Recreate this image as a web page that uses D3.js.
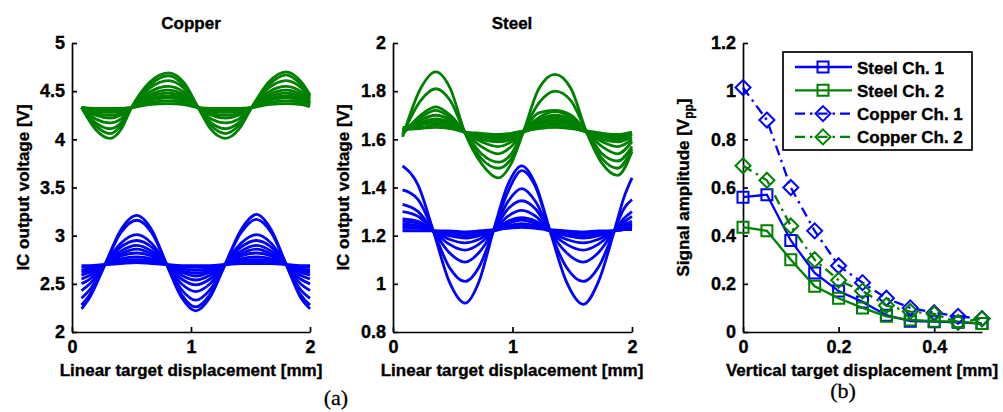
<!DOCTYPE html>
<html>
<head>
<meta charset="utf-8">
<script src="https://cdn.jsdelivr.net/npm/d3@7"></script>
<style>
body { margin: 0; background: #fff; }
svg text { font-family: "Liberation Sans", Arial, sans-serif; font-weight: bold; stroke: #000; stroke-width: 0.35px; }
</style>
</head>
<body>
<svg id="fig" width="1003" height="412"></svg>
<script>
// ---- data ----

// (a) Copper, Ch. 1 (blue): sample positions [mm] and one curve per vertical offset [V]
let copperCh1X = [0.08, 0.15, 0.277, 0.41, 0.544, 0.67, 0.796, 0.92, 1.04, 1.16, 1.286, 1.42, 1.55, 1.675, 1.80, 1.92, 2.0];
let copperCh1Curves = [
  [2.24,2.36,2.70,3.06,3.21,3.06,2.70,2.36,2.22,2.36,2.70,3.06,3.22,3.06,2.70,2.36,2.24],
  [2.28,2.39,2.70,3.03,3.16,3.03,2.70,2.39,2.26,2.39,2.70,3.03,3.17,3.03,2.70,2.39,2.28],
  [2.35,2.44,2.70,2.92,3.01,2.92,2.70,2.44,2.33,2.44,2.70,2.92,3.01,2.92,2.70,2.44,2.35],
  [2.43,2.50,2.70,2.88,2.95,2.88,2.70,2.50,2.42,2.50,2.70,2.88,2.95,2.88,2.70,2.50,2.43],
  [2.50,2.55,2.70,2.84,2.90,2.84,2.70,2.55,2.49,2.55,2.70,2.84,2.90,2.84,2.70,2.55,2.50],
  [2.55,2.59,2.70,2.81,2.86,2.81,2.70,2.59,2.54,2.59,2.70,2.81,2.86,2.81,2.70,2.59,2.55],
  [2.59,2.62,2.70,2.79,2.82,2.79,2.70,2.62,2.58,2.62,2.70,2.79,2.82,2.79,2.70,2.62,2.59],
  [2.62,2.64,2.70,2.76,2.78,2.76,2.70,2.64,2.61,2.64,2.70,2.76,2.78,2.76,2.70,2.64,2.62],
  [2.64,2.66,2.70,2.74,2.75,2.74,2.70,2.66,2.64,2.66,2.70,2.74,2.75,2.74,2.70,2.66,2.64],
  [2.67,2.68,2.70,2.72,2.73,2.72,2.70,2.68,2.67,2.68,2.70,2.72,2.73,2.72,2.70,2.68,2.67],
  [2.69,2.69,2.70,2.71,2.72,2.71,2.70,2.69,2.69,2.69,2.70,2.71,2.71,2.71,2.70,2.69,2.69]
];

// (a) Copper, Ch. 2 (green)
let copperCh2X = [0.08, 0.20, 0.32, 0.41, 0.50, 0.65, 0.81, 0.94, 1.06, 1.17, 1.29, 1.40, 1.51, 1.65, 1.80, 1.93, 2.0];
let copperCh2Curves = [
  [4.33,4.10,4.01,4.10,4.33,4.59,4.69,4.59,4.33,4.10,4.01,4.10,4.33,4.59,4.70,4.59,4.46],
  [4.33,4.14,4.06,4.14,4.33,4.56,4.66,4.56,4.33,4.14,4.06,4.14,4.33,4.56,4.67,4.56,4.45],
  [4.33,4.17,4.11,4.17,4.33,4.53,4.61,4.53,4.33,4.17,4.11,4.17,4.33,4.53,4.61,4.53,4.43],
  [4.33,4.21,4.17,4.21,4.33,4.49,4.55,4.49,4.33,4.21,4.17,4.21,4.33,4.49,4.55,4.49,4.41],
  [4.33,4.25,4.22,4.25,4.33,4.46,4.51,4.46,4.33,4.25,4.22,4.25,4.33,4.46,4.51,4.46,4.39],
  [4.33,4.27,4.25,4.27,4.33,4.44,4.48,4.44,4.33,4.27,4.25,4.27,4.33,4.44,4.48,4.44,4.38],
  [4.33,4.29,4.28,4.29,4.33,4.42,4.45,4.42,4.33,4.29,4.28,4.29,4.33,4.42,4.45,4.42,4.37],
  [4.33,4.31,4.30,4.31,4.33,4.40,4.43,4.40,4.33,4.31,4.30,4.31,4.33,4.40,4.43,4.40,4.36],
  [4.33,4.32,4.31,4.32,4.33,4.38,4.40,4.38,4.33,4.32,4.31,4.32,4.33,4.38,4.40,4.38,4.35],
  [4.33,4.32,4.32,4.32,4.33,4.36,4.37,4.36,4.33,4.32,4.32,4.32,4.33,4.36,4.37,4.36,4.34]
];

// (a) Steel, Ch. 1 (blue)
let steelCh1X = [0.08, 0.21, 0.337, 0.47, 0.603, 0.72, 0.84, 0.96, 1.077, 1.195, 1.314, 1.45, 1.593, 1.72, 1.852, 1.93, 2.0];
let steelCh1Curves = [
  [1.49,1.41,1.22,1.01,0.92,1.01,1.22,1.41,1.49,1.41,1.22,1.01,0.915,1.01,1.22,1.355,1.44],
  [1.39,1.35,1.22,1.07,1.01,1.07,1.22,1.38,1.47,1.40,1.22,1.07,1.01,1.07,1.22,1.31,1.35],
  [1.33,1.30,1.22,1.13,1.09,1.13,1.22,1.34,1.395,1.34,1.22,1.13,1.09,1.13,1.22,1.27,1.30],
  [1.30,1.28,1.22,1.165,1.14,1.165,1.22,1.31,1.345,1.31,1.22,1.165,1.14,1.165,1.22,1.255,1.28],
  [1.27,1.26,1.22,1.185,1.17,1.185,1.22,1.28,1.305,1.28,1.22,1.185,1.17,1.185,1.22,1.245,1.26],
  [1.26,1.25,1.22,1.20,1.19,1.20,1.22,1.26,1.275,1.26,1.22,1.20,1.19,1.20,1.22,1.24,1.25],
  [1.25,1.24,1.22,1.205,1.20,1.205,1.22,1.25,1.265,1.25,1.22,1.205,1.20,1.205,1.22,1.235,1.245],
  [1.24,1.235,1.22,1.215,1.21,1.215,1.22,1.24,1.25,1.24,1.22,1.215,1.21,1.215,1.22,1.23,1.24],
  [1.23,1.23,1.22,1.215,1.215,1.215,1.22,1.235,1.24,1.235,1.22,1.215,1.215,1.215,1.22,1.225,1.23],
  [1.22,1.22,1.22,1.22,1.215,1.22,1.225,1.23,1.235,1.23,1.225,1.22,1.215,1.22,1.22,1.225,1.225]
];

// (a) Steel, Ch. 2 (green)
let steelCh2X = [0.08, 0.23, 0.357, 0.48, 0.60, 0.74, 0.88, 0.99, 1.09, 1.22, 1.356, 1.49, 1.62, 1.75, 1.88, 2.0];
let steelCh2Curves = [
  [1.61,1.81,1.88,1.81,1.63,1.50,1.44,1.50,1.63,1.81,1.87,1.81,1.63,1.50,1.45,1.55],
  [1.62,1.76,1.81,1.76,1.63,1.52,1.48,1.52,1.63,1.75,1.80,1.76,1.63,1.52,1.48,1.56],
  [1.62,1.70,1.735,1.70,1.63,1.54,1.505,1.54,1.63,1.71,1.72,1.70,1.63,1.54,1.51,1.57],
  [1.63,1.69,1.72,1.69,1.63,1.57,1.54,1.57,1.63,1.69,1.715,1.69,1.63,1.57,1.54,1.59],
  [1.63,1.68,1.70,1.68,1.63,1.59,1.57,1.59,1.63,1.68,1.70,1.68,1.63,1.59,1.57,1.60],
  [1.64,1.67,1.685,1.67,1.63,1.60,1.59,1.60,1.63,1.67,1.69,1.67,1.63,1.60,1.59,1.61],
  [1.63,1.665,1.68,1.665,1.63,1.61,1.60,1.61,1.63,1.665,1.68,1.665,1.63,1.61,1.60,1.62],
  [1.64,1.66,1.67,1.66,1.63,1.615,1.61,1.615,1.63,1.66,1.67,1.66,1.63,1.615,1.61,1.62],
  [1.65,1.65,1.66,1.65,1.63,1.62,1.615,1.62,1.63,1.65,1.66,1.65,1.63,1.62,1.615,1.625],
  [1.64,1.645,1.65,1.645,1.63,1.625,1.62,1.625,1.635,1.645,1.65,1.645,1.635,1.625,1.62,1.63]
];

// (b) signal amplitude vs vertical displacement
let vertDisp = [0, 0.05, 0.10, 0.15, 0.20, 0.25, 0.30, 0.35, 0.40, 0.45, 0.50];
let steelCh1Amp  = [0.56, 0.57, 0.38, 0.245, 0.17, 0.125, 0.07, 0.045, 0.043, 0.04, 0.035];
let steelCh2Amp  = [0.435, 0.42, 0.30, 0.19, 0.14, 0.10, 0.065, 0.05, 0.045, 0.043, 0.035];
let copperCh1Amp = [1.015, 0.88, 0.60, 0.42, 0.275, 0.205, 0.14, 0.10, 0.08, 0.065, 0.055];
let copperCh2Amp = [0.69, 0.63, 0.44, 0.30, 0.215, 0.17, 0.11, 0.085, 0.075, 0.04, 0.055];
let legendNames = ["Steel Ch. 1", "Steel Ch. 2", "Copper Ch. 1", "Copper Ch. 2"];

// tick labels
let linTicks = [0, 1, 2];
let copperTicks = [2, 2.5, 3, 3.5, 4, 4.5, 5];
let steelTicks = [0.8, 1, 1.2, 1.4, 1.6, 1.8, 2];
let vertTicks = [0, 0.2, 0.4];
let ampTicks = [0, 0.2, 0.4, 0.6, 0.8, 1, 1.2];

// ---- layout ----
let blue = "#0000ff", green = "#008000";
let plotTop = 43, plotBottom = 332;
let svg = d3.select("#fig");

function drawAxes(x, y, xt, yt) {
  let gx = svg.append("g")
    .attr("transform", `translate(0,${plotBottom})`)
    .call(d3.axisBottom(x).tickValues(xt).tickSizeInner(-5).tickSizeOuter(0).tickPadding(8).tickFormat(d => d));
  let gy = svg.append("g")
    .attr("transform", `translate(${x.range()[0]},0)`)
    .call(d3.axisLeft(y).tickValues(yt).tickSizeInner(-5).tickSizeOuter(0).tickPadding(7).tickFormat(d => d));
  [gx, gy].forEach(g => {
    g.attr("font-size", 18).attr("font-family", null);
    g.selectAll("path, line").attr("stroke", "#000").attr("stroke-width", 1.7);
  });
}

function drawCurves(x, y, xs, curves, color) {
  let line = d3.line()
    .x((d, i) => x(xs[i]))
    .y(d => y(d))
    .curve(d3.curveMonotoneX);
  svg.append("g").selectAll("path")
    .data(curves)
    .enter()
    .append("path")
    .attr("d", line)
    .attr("fill", "none")
    .attr("stroke", color)
    .attr("stroke-width", 2.8)
    .attr("stroke-linejoin", "round");
}

function yLabel(xPos, txt) {
  return svg.append("text")
    .attr("transform", `translate(${xPos},187.5) rotate(-90)`)
    .attr("text-anchor", "middle")
    .attr("font-size", 17)
    .text(txt);
}

function xLabel(cx, txt) {
  svg.append("text")
    .attr("x", cx).attr("y", 376)
    .attr("text-anchor", "middle")
    .attr("font-size", 17)
    .text(txt);
}

// Copper panel
let xCu = d3.scaleLinear().domain([0, 2]).range([72, 310]);
let yCu = d3.scaleLinear().domain([2, 5]).range([plotBottom, plotTop]);
drawCurves(xCu, yCu, copperCh2X, copperCh2Curves, green);
drawCurves(xCu, yCu, copperCh1X, copperCh1Curves, blue);
drawAxes(xCu, yCu, linTicks, copperTicks);
svg.append("text").attr("x", 191).attr("y", 29).attr("text-anchor", "middle").attr("font-size", 17).text("Copper");
yLabel(29, "IC output voltage [V]");
xLabel(191, "Linear target displacement [mm]");

// Steel panel
let xSt = d3.scaleLinear().domain([0, 2]).range([393, 632]);
let ySt = d3.scaleLinear().domain([0.8, 2]).range([plotBottom, plotTop]);
drawCurves(xSt, ySt, steelCh2X, steelCh2Curves, green);
drawCurves(xSt, ySt, steelCh1X, steelCh1Curves, blue);
drawAxes(xSt, ySt, linTicks, steelTicks);
svg.append("text").attr("x", 512).attr("y", 29).attr("text-anchor", "middle").attr("font-size", 17).text("Steel");
yLabel(349, "IC output voltage [V]");
xLabel(512, "Linear target displacement [mm]");

// Amplitude panel
let xV = d3.scaleLinear().domain([0, 0.5]).range([743, 982]);
let yA = d3.scaleLinear().domain([0, 1.2]).range([plotBottom, plotTop]);
drawAxes(xV, yA, vertTicks, ampTicks);

let series = [
  {name: legendNames[0], values: steelCh1Amp, color: blue, dash: null, marker: "square"},
  {name: legendNames[1], values: steelCh2Amp, color: green, dash: null, marker: "square"},
  {name: legendNames[2], values: copperCh1Amp, color: blue, dash: "10,5,2.5,5", marker: "diamond"},
  {name: legendNames[3], values: copperCh2Amp, color: green, dash: "10,5,2.5,5", marker: "diamond"}
];

function markerPath(kind) {
  return kind === "square"
    ? "M-5.5,-5.5H5.5V5.5H-5.5Z"
    : "M0,-7.5L7.5,0L0,7.5L-7.5,0Z";
}

let ampLine = d3.line().x((d, i) => xV(vertDisp[i])).y(d => yA(d));
series.forEach(s => {
  let g = svg.append("g");
  g.append("path")
    .attr("d", ampLine(s.values))
    .attr("fill", "none")
    .attr("stroke", s.color)
    .attr("stroke-width", 2.3)
    .attr("stroke-dasharray", s.dash);
  g.selectAll("path.mk")
    .data(s.values)
    .enter()
    .append("path")
    .attr("class", "mk")
    .attr("transform", (d, i) => `translate(${xV(vertDisp[i])},${yA(d)})`)
    .attr("d", markerPath(s.marker))
    .attr("fill", "none")
    .attr("stroke", s.color)
    .attr("stroke-width", 2);
});

// legend
let lg = svg.append("g");
lg.append("rect")
  .attr("x", 783).attr("y", 52).attr("width", 189).attr("height", 98)
  .attr("fill", "#fff").attr("stroke", "#000").attr("stroke-width", 1.7);
series.forEach((s, i) => {
  let yy = 67 + i * 23.3;
  lg.append("line")
    .attr("x1", 795).attr("x2", 852).attr("y1", yy).attr("y2", yy)
    .attr("stroke", s.color).attr("stroke-width", 2.3)
    .attr("stroke-dasharray", s.dash);
  lg.append("path")
    .attr("transform", `translate(823,${yy})`)
    .attr("d", markerPath(s.marker))
    .attr("fill", "none").attr("stroke", s.color).attr("stroke-width", 2);
  lg.append("text")
    .attr("x", 857).attr("y", yy + 6.5)
    .attr("font-size", 17)
    .text(s.name);
});

let yl = yLabel(689, "Signal amplitude [V");
yl.append("tspan").attr("font-size", 12).attr("dy", 4).text("pp");
yl.append("tspan").attr("dy", -4).text("]");
xLabel(862, "Vertical target displacement [mm]");

// sub-figure captions
svg.append("text").attr("x", 336).attr("y", 405).attr("text-anchor", "middle")
  .attr("font-size", 22).style("font-family", "'Liberation Serif', serif").style("font-weight", "normal")
  .style("stroke-width", "0.3px")
  .text("(a)");
svg.append("text").attr("x", 843).attr("y", 398).attr("text-anchor", "middle")
  .attr("font-size", 22).style("font-family", "'Liberation Serif', serif").style("font-weight", "normal")
  .style("stroke-width", "0.3px")
  .text("(b)");
</script>
</body>
</html>
